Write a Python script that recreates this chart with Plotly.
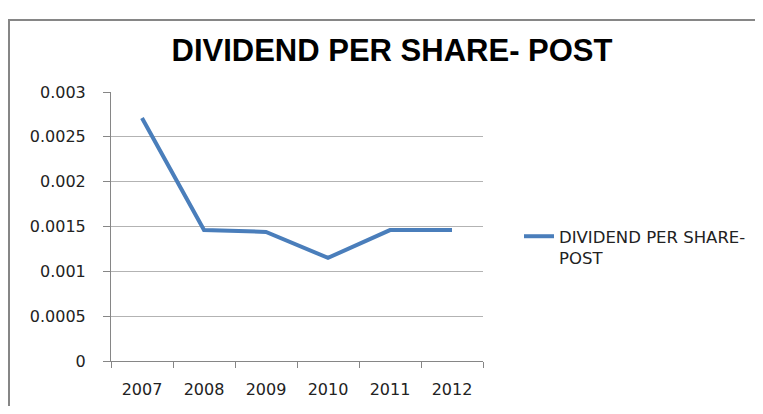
import plotly.graph_objects as go

years = ["2007", "2008", "2009", "2010", "2011", "2012"]
dps_post = [0.00271, 0.00146, 0.00144, 0.00115, 0.00146, 0.00146]
series_name = "DIVIDEND PER SHARE-<br>POST"
chart_title = "DIVIDEND PER SHARE- POST"

# the page body has an 8px margin on every side, so keep the figure inside it
W, H = 747, 398
L, T = 103, 84
R, B = W - 475, H - 353

fig = go.Figure()
fig.add_trace(go.Scatter(x=years, y=dps_post, mode="lines", name=series_name,
                         line=dict(color="#4a7ebb", width=4)))

# chart area border (runs off the right and bottom of the crop)
pw, ph = W - L - R, H - T - B
fig.add_shape(type="rect", xref="paper", yref="paper",
              x0=(1 - L) / pw, x1=(W + 60 - L) / pw,
              y0=-(B + 60) / ph, y1=(H - 12 - B) / ph,
              line=dict(color="#868686", width=2), layer="below")

fig.update_layout(
    width=W, height=H,
    margin=dict(l=L, r=R, t=T, b=B, autoexpand=False),
    paper_bgcolor="white", plot_bgcolor="white",
    font=dict(family="DejaVu Sans, sans-serif", size=16, color="#222"),
    title=dict(text=chart_title, x=384 / W, xanchor="center",
               y=1 - 42 / H, yanchor="middle", xref="container", yref="container",
               font=dict(family="Liberation Sans, Arial, sans-serif",
                         size=31, color="#000", weight="bold")),
    showlegend=True,
    legend=dict(x=(511 - L) / pw, y=1 - (211 - T) / ph, xanchor="left", yanchor="top",
                valign="top", font=dict(size=16.5, color="#222"), bgcolor="rgba(0,0,0,0)"),
    xaxis=dict(type="category", range=[-0.5, 5.5], tickson="boundaries", ticks="outside",
               ticklen=6, tickcolor="#868686", showline=True, linecolor="#868686",
               linewidth=1, showgrid=False, zeroline=False, ticklabelstandoff=14,
               automargin=False),
    yaxis=dict(range=[0, 0.003], dtick=0.0005, tickformat="~g", ticks="outside", ticklen=7,
               tickcolor="#868686", showline=True, linecolor="#868686", linewidth=1,
               showgrid=True, gridcolor="#b3b3b3", gridwidth=1, zeroline=False,
               ticklabelstandoff=14, automargin=False),
)

fig.write_html("out.html")
